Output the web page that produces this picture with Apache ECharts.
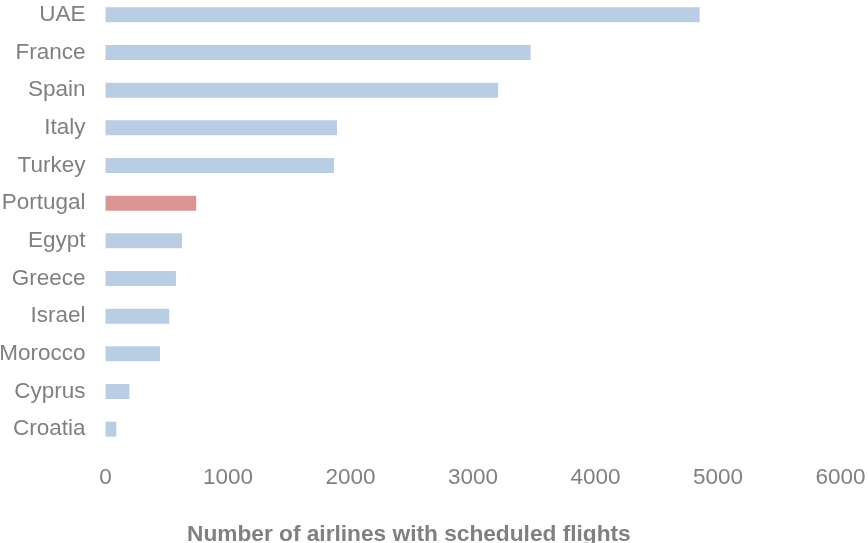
<!DOCTYPE html>
<html>
<head>
<meta charset="utf-8">
<script src="https://cdn.jsdelivr.net/npm/echarts@6/dist/echarts.min.js"></script>
<style>html,body{margin:0;padding:0;background:#fff}#c{width:868px;height:543px}</style>
</head>
<body>
<div id="c"></div>
<script>
const countries = ["UAE","France","Spain","Italy","Turkey","Portugal","Egypt","Greece","Israel","Morocco","Cyprus","Croatia"];
const airlines = [4850,3470,3205,1890,1865,740,625,575,520,445,195,88];
const highlight = "Portugal";
const xTicks = [0,1000,2000,3000,4000,5000,6000];

const chart = echarts.init(document.getElementById('c'));
chart.setOption({
  animation:false,
  title:{
    text:'Number of airlines with scheduled flights',left:182,top:518,
    textStyle:{color:'#808080',fontSize:22.7,fontWeight:'bold',fontFamily:'Liberation Sans'}
  },
  grid:{left:105.5,right:27.5,top:-4,bottom:95,containLabel:false,outerBoundsMode:'none'},
  xAxis:{
    type:'value',min:xTicks[0],max:xTicks[xTicks.length-1],interval:1000,
    axisLine:{show:false},axisTick:{show:false},splitLine:{show:false},
    axisLabel:{color:'#808080',fontSize:22.5,fontFamily:'Liberation Sans',margin:18,formatter:v=>String(v)}
  },
  yAxis:{
    type:'category',data:countries,inverse:true,
    axisLine:{show:false},axisTick:{show:false},splitLine:{show:false},
    axisLabel:{color:'#808080',fontSize:22.5,fontFamily:'Liberation Sans',margin:20}
  },
  series:[{
    type:'bar',barWidth:15,
    data:airlines.map((v,i)=>({value:v,itemStyle:{color:countries[i]===highlight?'#D99694':'#B9CDE5'}}))
  }]
});
</script>
</body>
</html>
